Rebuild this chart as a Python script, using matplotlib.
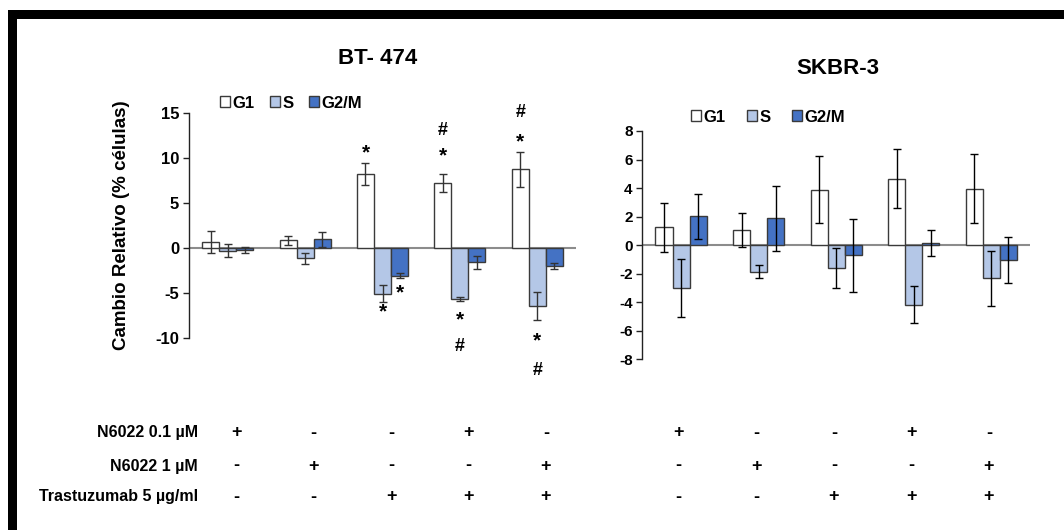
import matplotlib
matplotlib.use("Agg")
import matplotlib.pyplot as plt
from matplotlib.patches import Rectangle, Patch
import numpy as np

plt.rcParams['font.family'] = ['Liberation Sans', 'DejaVu Sans']
plt.rcParams['font.weight'] = 'bold'

# ---------------- data ----------------
series = ["G1", "S", "G2/M"]
groups = [0, 1, 2, 3, 4]

bt_g1 = [0.65, 0.81, 8.22, 7.19, 8.70]
bt_s = [-0.33, -1.19, -5.11, -5.70, -6.52]
bt_g2m = [-0.26, 0.93, -3.11, -1.63, -2.04]
bt_g1_err = [1.2, 0.5, 1.22, 0.98, 1.98]
bt_s_err = [0.7, 0.65, 0.93, 0.26, 1.56]
bt_g2m_err = [0.35, 0.85, 0.28, 0.70, 0.31]

sk_g1 = [1.24, 1.05, 3.90, 4.65, 3.97]
sk_s = [-3.01, -1.87, -1.59, -4.16, -2.31]
sk_g2m = [2.01, 1.87, -0.72, 0.16, -1.02]
sk_g1_err = [1.70, 1.17, 2.37, 2.06, 2.40]
sk_s_err = [2.06, 0.46, 1.39, 1.27, 1.93]
sk_g2m_err = [1.56, 2.27, 2.58, 0.89, 1.60]

# significance marks (left panel): group, series index, y value, text
ann_group = [2, 2, 2, 3, 3, 3, 3, 4, 4, 4, 4]
ann_series = [0, 1, 2, 0, 0, 1, 1, 0, 0, 1, 1]
ann_y = [10.5, -7.1, -5.0, 10.2, 13.0, -8.0, -11.0, 11.8, 15.0, -10.4, -13.6]
ann_text = ["*", "*", "*", "*", "#", "*", "#", "*", "#", "*", "#"]

row_labels = ["N6022 0.1 µM", "N6022 1 µM", "Trastuzumab 5 µg/ml"]
row_signs = [["+", "-", "-", "+", "-"],
             ["-", "+", "-", "-", "+"],
             ["-", "-", "+", "+", "+"]]

titles = ["BT- 474", "SKBR-3"]
ylabel = "Cambio Relativo (% células)"
bt_ticks = [-10, -5, 0, 5, 10, 15]
sk_ticks = [-8, -6, -4, -2, 0, 2, 4, 6, 8]

# ---------------- style ----------------
colors = ["#FFFFFF", "#B4C7E7", "#4472C4"]
edge = "#3a3a3a"
W, H = 1064, 530
fig = plt.figure(figsize=(W / 100, H / 100), dpi=100)

# border
fig.patches.append(Rectangle((8 / W, 1 - 19 / H), 1 - 8 / W, 9 / H, transform=fig.transFigure,
                             facecolor="black", edgecolor="none", zorder=0))
fig.patches.append(Rectangle((8 / W, 0), 9 / W, 1 - 10 / H, transform=fig.transFigure,
                             facecolor="black", edgecolor="none", zorder=0))

axL = fig.add_axes([189 / W, 1 - 337.7 / H, 387 / W, 225 / H])
axR = fig.add_axes([642.3 / W, 1 - 359.3 / H, 387.7 / W, 228.3 / H])

bw = 0.22
x = np.array(groups, dtype=float)


def draw(ax, vals, errs, ylim, ticks, errcolor, tickfs):
    for j, (v, e) in enumerate(zip(vals, errs)):
        xs = x + (j - 1) * bw
        ax.bar(xs, v, width=bw, color=colors[j], edgecolor=edge, linewidth=1.0, zorder=2)
        ax.errorbar(xs, v, yerr=e, fmt="none", ecolor=errcolor, elinewidth=1.0,
                    capsize=3, capthick=1.0, zorder=3)
    ax.axhline(0, color="#8c8c8c", linewidth=1.5, zorder=1)
    ax.set_xlim(-0.5, 4.5)
    ax.set_ylim(*ylim)
    ax.set_yticks(ticks)
    ax.set_yticklabels([str(t) for t in ticks], fontsize=tickfs, fontweight="bold")
    ax.set_xticks([])
    for s in ["top", "right", "bottom"]:
        ax.spines[s].set_visible(False)
    ax.spines["left"].set_color("#222222")
    ax.spines["left"].set_linewidth(1.0)
    ax.tick_params(axis="y", direction="out", length=4, width=1.0, color="#222222", pad=3)
    ax.patch.set_alpha(0)


draw(axL, [bt_g1, bt_s, bt_g2m], [bt_g1_err, bt_s_err, bt_g2m_err], (-10, 15), bt_ticks, "#333333", 12)
draw(axR, [sk_g1, sk_s, sk_g2m], [sk_g1_err, sk_s_err, sk_g2m_err], (-8, 8), sk_ticks, "#000000", 11)

for g, s, yv, t in zip(ann_group, ann_series, ann_y, ann_text):
    axL.text(g + (s - 1) * bw, yv, t, ha="center", va="center", fontsize=15 if t == "*" else 13,
             fontweight="bold", clip_on=False)

axL.set_ylabel(ylabel, fontsize=13.5, fontweight="bold", labelpad=18)

# titles
fig.text(378 / W, 1 - 58 / H, titles[0], ha="center", va="center", fontsize=16, fontweight="bold")
fig.text(838 / W, 1 - 68 / H, titles[1], ha="center", va="center", fontsize=16, fontweight="bold")

# legends
handles = [Patch(facecolor=c, edgecolor=edge, linewidth=1.0) for c in colors]
for ax, xc, yc, cs in [(axL, 291, 103, 0.9), (axR, 768, 117, 1.3)]:
    fig.legend(handles, series, loc="center", bbox_to_anchor=(xc / W, 1 - yc / H), ncol=3,
               frameon=False, handlelength=0.6, handleheight=0.6, handletextpad=0.15,
               columnspacing=cs, prop={"weight": "bold", "size": 12})

# treatment table
row_y = [433, 466, 497]
for r, (lab, yy) in enumerate(zip(row_labels, row_y)):
    fig.text(198 / W, 1 - yy / H, lab, ha="right", va="center", fontsize=11.5, fontweight="bold")
    for ax, off in [(axL, 0.11), (axR, -0.03)]:
        for g, sgn in zip(groups, row_signs[r]):
            xd = ax.transData.transform((g + off, 0))[0]
            xf = fig.transFigure.inverted().transform((xd, 0))[0]
            fig.text(xf, 1 - yy / H, sgn, ha="center", va="center", fontsize=13, fontweight="bold")

fig.savefig("out.png", dpi=100)
